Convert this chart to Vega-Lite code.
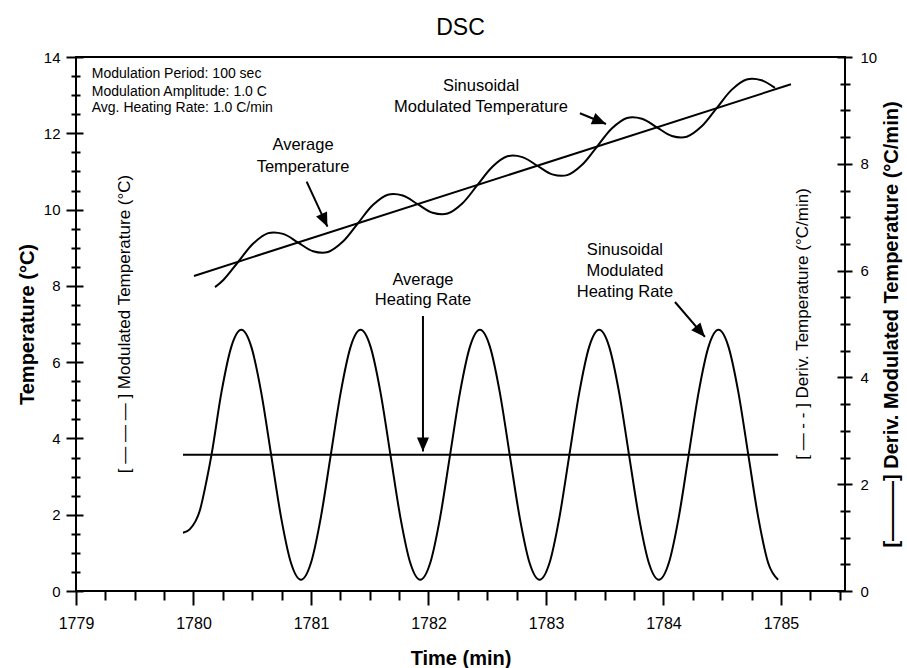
{
  "$schema": "https://vega.github.io/schema/vega-lite/v6.json",
  "width": 769,
  "height": 534,
  "autosize": {"type": "none"},
  "padding": {"left": 76, "top": 57, "right": 62, "bottom": 77},
  "background": "white",
  "config": {
    "view": {"stroke": "black", "strokeWidth": 2},
    "font": "Liberation Sans",
    "axis": {"domain": false, "grid": false, "tickColor": "black", "tickWidth": 2, "labelColor": "black", "titleColor": "black", "labelFont": "Liberation Sans", "titleFont": "Liberation Sans"}
  },
  "title": {"text": "DSC", "fontSize": 23, "fontWeight": "normal", "font": "Liberation Sans", "anchor": "middle", "frame": "group", "offset": 15, "dy": 23, "baseline": "alphabetic", "color": "black"},
  "datasets": {
    "temp": [
      {"t": 1780.183, "T": 7.967}, {"t": 1780.2541, "T": 8.154}, {"t": 1780.3813, "T": 8.632}, {"t": 1780.5085, "T": 9.110},
      {"t": 1780.6358, "T": 9.382}, {"t": 1780.7630, "T": 9.362}, {"t": 1780.8902, "T": 9.136}, {"t": 1781.0175, "T": 8.909},
      {"t": 1781.1447, "T": 8.889}, {"t": 1781.2720, "T": 9.161}, {"t": 1781.3992, "T": 9.639}, {"t": 1781.5264, "T": 10.117},
      {"t": 1781.6537, "T": 10.389}, {"t": 1781.7809, "T": 10.369}, {"t": 1781.9081, "T": 10.142}, {"t": 1782.0354, "T": 9.916},
      {"t": 1782.1626, "T": 9.896}, {"t": 1782.2898, "T": 10.168}, {"t": 1782.4171, "T": 10.646}, {"t": 1782.5443, "T": 11.124},
      {"t": 1782.6715, "T": 11.396}, {"t": 1782.7988, "T": 11.376}, {"t": 1782.9260, "T": 11.149}, {"t": 1783.0532, "T": 10.923},
      {"t": 1783.1805, "T": 10.903}, {"t": 1783.3077, "T": 11.175}, {"t": 1783.4349, "T": 11.653}, {"t": 1783.5622, "T": 12.131},
      {"t": 1783.6894, "T": 12.402}, {"t": 1783.8167, "T": 12.382}, {"t": 1783.9439, "T": 12.156}, {"t": 1784.0711, "T": 11.930},
      {"t": 1784.1984, "T": 11.910}, {"t": 1784.3256, "T": 12.182}, {"t": 1784.4528, "T": 12.660}, {"t": 1784.5801, "T": 13.138},
      {"t": 1784.7073, "T": 13.409}, {"t": 1784.8345, "T": 13.389}, {"t": 1784.949, "T": 13.190}
    ],
    "avgtemp": [{"t": 1780.004, "T": 8.26}, {"t": 1785.085, "T": 13.285}],
    "rate": [
      {"t": 1779.9106, "R": 1.09}, {"t": 1779.9677, "R": 1.155}, {"t": 1780.0553, "R": 1.517}, {"t": 1780.1123, "R": 2.08},
      {"t": 1780.1532, "R": 2.55}, {"t": 1780.2378, "R": 3.72}, {"t": 1780.3224, "R": 4.576}, {"t": 1780.4070, "R": 4.89},
      {"t": 1780.4916, "R": 4.576}, {"t": 1780.5763, "R": 3.72}, {"t": 1780.6609, "R": 2.55}, {"t": 1780.7455, "R": 1.38},
      {"t": 1780.8301, "R": 0.524}, {"t": 1780.9147, "R": 0.21}, {"t": 1780.9993, "R": 0.524}, {"t": 1781.0839, "R": 1.38},
      {"t": 1781.1685, "R": 2.55}, {"t": 1781.2531, "R": 3.72}, {"t": 1781.3377, "R": 4.576}, {"t": 1781.4223, "R": 4.89},
      {"t": 1781.5070, "R": 4.576}, {"t": 1781.5916, "R": 3.72}, {"t": 1781.6762, "R": 2.55}, {"t": 1781.7608, "R": 1.38},
      {"t": 1781.8454, "R": 0.524}, {"t": 1781.9300, "R": 0.21}, {"t": 1782.0146, "R": 0.524}, {"t": 1782.0992, "R": 1.38},
      {"t": 1782.1838, "R": 2.55}, {"t": 1782.2684, "R": 3.72}, {"t": 1782.3531, "R": 4.576}, {"t": 1782.4377, "R": 4.89},
      {"t": 1782.5223, "R": 4.576}, {"t": 1782.6069, "R": 3.72}, {"t": 1782.6915, "R": 2.55}, {"t": 1782.7761, "R": 1.38},
      {"t": 1782.8607, "R": 0.524}, {"t": 1782.9453, "R": 0.21}, {"t": 1783.0299, "R": 0.524}, {"t": 1783.1145, "R": 1.38},
      {"t": 1783.1992, "R": 2.55}, {"t": 1783.2838, "R": 3.72}, {"t": 1783.3684, "R": 4.576}, {"t": 1783.4530, "R": 4.89},
      {"t": 1783.5376, "R": 4.576}, {"t": 1783.6222, "R": 3.72}, {"t": 1783.7068, "R": 2.55}, {"t": 1783.7914, "R": 1.38},
      {"t": 1783.8760, "R": 0.524}, {"t": 1783.9606, "R": 0.21}, {"t": 1784.0452, "R": 0.524}, {"t": 1784.1299, "R": 1.38},
      {"t": 1784.2145, "R": 2.55}, {"t": 1784.2991, "R": 3.72}, {"t": 1784.3837, "R": 4.576}, {"t": 1784.4683, "R": 4.89},
      {"t": 1784.5529, "R": 4.576}, {"t": 1784.6375, "R": 3.72}, {"t": 1784.7221, "R": 2.55}, {"t": 1784.8067, "R": 1.38},
      {"t": 1784.8913, "R": 0.524}, {"t": 1784.9759, "R": 0.21}
    ],
    "avgrate": [{"t": 1779.9106, "R": 2.55}, {"t": 1784.976, "R": 2.55}],
    "info": [
      {"t": 1779.134, "T": 13.547, "text": "Modulation Period:  100 sec"},
      {"t": 1779.134, "T": 13.091, "text": "Modulation Amplitude:  1.0 C"},
      {"t": 1779.134, "T": 12.656, "text": "Avg. Heating Rate:  1.0 C/min"}
    ],
    "callouts": [
      {"t": 1780.932, "T": 11.681, "text": "Average"},
      {"t": 1780.932, "T": 11.125, "text": "Temperature"},
      {"t": 1782.447, "T": 13.241, "text": "Sinusoidal"},
      {"t": 1782.447, "T": 12.690, "text": "Modulated Temperature"},
      {"t": 1781.953, "T": 8.154, "text": "Average"},
      {"t": 1781.953, "T": 7.630, "text": "Heating Rate"},
      {"t": 1783.672, "T": 8.941, "text": "Sinusoidal"},
      {"t": 1783.672, "T": 8.390, "text": "Modulated"},
      {"t": 1783.672, "T": 7.839, "text": "Heating Rate"}
    ],
    "sidelabels": [
      {"t": 1779.417, "T": 7.0, "text": "[ — — — ] Modulated Temperature (°C)"},
      {"t": 1785.187, "T": 7.0, "text": "[ — - - ] Deriv. Temperature (°C/min)"}
    ],
    "arrows": [
      {"id": 1, "t": 1780.963, "T": 10.732, "t2": 1781.140, "T2": 9.552},
      {"id": 2, "t": 1783.289, "T": 12.525, "t2": 1783.511, "T2": 12.244},
      {"id": 3, "t": 1781.953, "T": 7.210, "t2": 1781.953, "T2": 3.658},
      {"id": 4, "t": 1784.098, "T": 7.577, "t2": 1784.353, "T2": 6.660}
    ]
  },
  "layer": [
    {
      "layer": [
        {
          "data": {"name": "temp"},
          "mark": {"type": "line", "interpolate": "catmull-rom", "color": "black", "strokeWidth": 2},
          "encoding": {
            "x": {"field": "t", "type": "quantitative", "scale": {"domain": [1779, 1785.545], "nice": false, "zero": false},
              "axis": {"orient": "bottom", "values": [1779, 1780, 1781, 1782, 1783, 1784, 1785], "format": "d", "tickSize": 14, "labelFontSize": 16, "labelPadding": 10, "labelFlush": false, "title": "Time (min)", "titleFontSize": 20, "titleFontWeight": "bold", "titlePadding": 17}},
            "y": {"field": "T", "type": "quantitative", "scale": {"domain": [0, 14], "nice": false, "zero": false},
              "axis": {"orient": "left", "values": [0, 2, 4, 6, 8, 10, 12, 14], "tickSize": 17, "offset": -7, "labelFontSize": 15, "labelPadding": 6, "title": "Temperature (°C)", "titleFontSize": 20, "titleFontWeight": "bold", "titlePadding": 6}}
          }
        },
        {
          "data": {"name": "avgtemp"},
          "mark": {"type": "line", "color": "black", "strokeWidth": 2},
          "encoding": {
            "x": {"field": "t", "type": "quantitative", "scale": {"domain": [1779, 1785.545], "nice": false, "zero": false},
              "axis": {"orient": "bottom", "values": [1779.25, 1779.5, 1779.75, 1780.25, 1780.5, 1780.75, 1781.25, 1781.5, 1781.75, 1782.25, 1782.5, 1782.75, 1783.25, 1783.5, 1783.75, 1784.25, 1784.5, 1784.75, 1785.25, 1785.5], "tickSize": 9, "labels": false, "title": null}},
            "y": {"field": "T", "type": "quantitative", "scale": {"domain": [0, 14], "nice": false, "zero": false},
              "axis": {"orient": "left", "values": [0.5, 1, 1.5, 2.5, 3, 3.5, 4.5, 5, 5.5, 6.5, 7, 7.5, 8.5, 9, 9.5, 10.5, 11, 11.5, 12.5, 13, 13.5], "tickSize": 9, "offset": -4, "labels": false, "title": null}}
          }
        },
        {
          "data": {"name": "info"},
          "mark": {"type": "text", "align": "left", "baseline": "middle", "fontSize": 14, "font": "Liberation Sans", "color": "black"},
          "encoding": {
            "x": {"field": "t", "type": "quantitative", "scale": {"domain": [1779, 1785.545], "nice": false, "zero": false}, "axis": null},
            "y": {"field": "T", "type": "quantitative", "scale": {"domain": [0, 14], "nice": false, "zero": false}, "axis": null},
            "text": {"field": "text"}
          }
        },
        {
          "data": {"name": "callouts"},
          "mark": {"type": "text", "align": "center", "baseline": "middle", "fontSize": 16.5, "font": "Liberation Sans", "color": "black"},
          "encoding": {
            "x": {"field": "t", "type": "quantitative", "scale": {"domain": [1779, 1785.545], "nice": false, "zero": false}, "axis": null},
            "y": {"field": "T", "type": "quantitative", "scale": {"domain": [0, 14], "nice": false, "zero": false}, "axis": null},
            "text": {"field": "text"}
          }
        },
        {
          "data": {"name": "sidelabels"},
          "mark": {"type": "text", "align": "center", "baseline": "middle", "angle": 270, "fontSize": 17, "font": "Liberation Sans", "color": "black"},
          "encoding": {
            "x": {"field": "t", "type": "quantitative", "scale": {"domain": [1779, 1785.545], "nice": false, "zero": false}, "axis": null},
            "y": {"field": "T", "type": "quantitative", "scale": {"domain": [0, 14], "nice": false, "zero": false}, "axis": null},
            "text": {"field": "text"}
          }
        },
        {
          "data": {"name": "arrows"},
          "mark": {"type": "rule", "color": "black", "strokeWidth": 2},
          "encoding": {
            "x": {"field": "t", "type": "quantitative", "scale": {"domain": [1779, 1785.545], "nice": false, "zero": false}, "axis": null},
            "y": {"field": "T", "type": "quantitative", "scale": {"domain": [0, 14], "nice": false, "zero": false}, "axis": null},
            "x2": {"field": "t2"},
            "y2": {"field": "T2"}
          }
        },
        {
          "data": {"name": "arrows"},
          "transform": [{"filter": "datum.id == 1"}],
          "mark": {"type": "point", "shape": "M0,0L0.43,1L-0.43,1Z", "size": 784, "filled": true, "color": "black", "opacity": 1, "strokeWidth": 0, "angle": 155.2},
          "encoding": {
            "x": {"field": "t2", "type": "quantitative", "scale": {"domain": [1779, 1785.545], "nice": false, "zero": false}, "axis": null},
            "y": {"field": "T2", "type": "quantitative", "scale": {"domain": [0, 14], "nice": false, "zero": false}, "axis": null}
          }
        },
        {
          "data": {"name": "arrows"},
          "transform": [{"filter": "datum.id == 2"}],
          "mark": {"type": "point", "shape": "M0,0L0.43,1L-0.43,1Z", "size": 784, "filled": true, "color": "black", "opacity": 1, "strokeWidth": 0, "angle": 112.4},
          "encoding": {
            "x": {"field": "t2", "type": "quantitative", "scale": {"domain": [1779, 1785.545], "nice": false, "zero": false}, "axis": null},
            "y": {"field": "T2", "type": "quantitative", "scale": {"domain": [0, 14], "nice": false, "zero": false}, "axis": null}
          }
        },
        {
          "data": {"name": "arrows"},
          "transform": [{"filter": "datum.id == 3"}],
          "mark": {"type": "point", "shape": "M0,0L0.43,1L-0.43,1Z", "size": 784, "filled": true, "color": "black", "opacity": 1, "strokeWidth": 0, "angle": 180},
          "encoding": {
            "x": {"field": "t2", "type": "quantitative", "scale": {"domain": [1779, 1785.545], "nice": false, "zero": false}, "axis": null},
            "y": {"field": "T2", "type": "quantitative", "scale": {"domain": [0, 14], "nice": false, "zero": false}, "axis": null}
          }
        },
        {
          "data": {"name": "arrows"},
          "transform": [{"filter": "datum.id == 4"}],
          "mark": {"type": "point", "shape": "M0,0L0.43,1L-0.43,1Z", "size": 784, "filled": true, "color": "black", "opacity": 1, "strokeWidth": 0, "angle": 139.4},
          "encoding": {
            "x": {"field": "t2", "type": "quantitative", "scale": {"domain": [1779, 1785.545], "nice": false, "zero": false}, "axis": null},
            "y": {"field": "T2", "type": "quantitative", "scale": {"domain": [0, 14], "nice": false, "zero": false}, "axis": null}
          }
        }
      ],
      "resolve": {"axis": {"x": "independent", "y": "independent"}}
    },
    {
      "layer": [
        {
          "data": {"name": "rate"},
          "mark": {"type": "line", "interpolate": "monotone", "color": "black", "strokeWidth": 2},
          "encoding": {
            "x": {"field": "t", "type": "quantitative", "scale": {"domain": [1779, 1785.545], "nice": false, "zero": false}, "axis": null},
            "y": {"field": "R", "type": "quantitative", "scale": {"domain": [0, 10], "nice": false, "zero": false},
              "axis": {"orient": "right", "values": [0, 2, 4, 6, 8, 10], "tickSize": 15, "offset": -8, "labelFontSize": 15, "labelPadding": 8, "title": "[———] Deriv. Modulated Temperature (°C/min)", "titleAngle": 270, "titleBaseline": "top", "titleFontSize": 20, "titleFontWeight": "bold", "titlePadding": 5}}
          }
        },
        {
          "data": {"name": "avgrate"},
          "mark": {"type": "line", "color": "black", "strokeWidth": 2},
          "encoding": {
            "x": {"field": "t", "type": "quantitative", "scale": {"domain": [1779, 1785.545], "nice": false, "zero": false}, "axis": null},
            "y": {"field": "R", "type": "quantitative", "scale": {"domain": [0, 10], "nice": false, "zero": false},
              "axis": {"orient": "right", "values": [0.5, 1, 1.5, 2.5, 3, 3.5, 4.5, 5, 5.5, 6.5, 7, 7.5, 8.5, 9, 9.5], "tickSize": 10, "offset": -5, "labels": false, "title": null}}
          }
        }
      ],
      "resolve": {"axis": {"y": "independent"}}
    }
  ],
  "resolve": {"scale": {"y": "independent"}}
}
